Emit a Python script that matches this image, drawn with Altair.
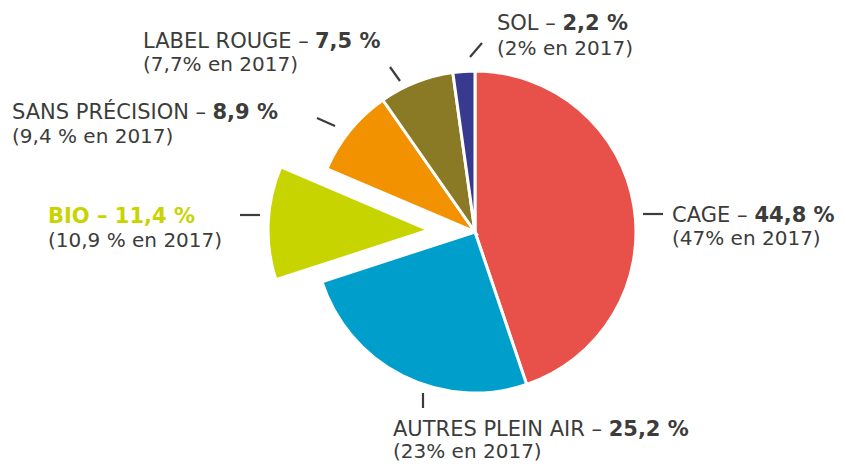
import altair as alt
import pandas as pd

# ---- data ----
categories = ["CAGE", "AUTRES PLEIN AIR", "BIO", "SANS PRÉCISION", "LABEL ROUGE", "SOL"]
values_2019 = [44.8, 25.2, 11.4, 8.9, 7.5, 2.2]
labels_2017 = ["(47% en 2017)", "(23% en 2017)", "(10,9 % en 2017)",
               "(9,4 % en 2017)", "(7,7% en 2017)", "(2% en 2017)"]
colors = ["#E8514A", "#009FCB", "#C8D400", "#F39200", "#8A7925", "#373A8E"]

# ---- layout (pixels, relative to plot origin) ----
W, H = 726, 448
TEXT = "#3C3C3B"
FONT = "DejaVu Sans"
FS1 = 21   # first line
FS2 = 20   # second line
# approximate DejaVu Sans advance widths (em) used to place the bold part after the regular part
ADV = {" ": .318, "A": .684, "B": .686, "C": .698, "E": .632, "G": .775, "I": .295,
       "L": .557, "N": .748, "O": .787, "P": .603, "R": .695, "S": .635, "T": .611,
       "U": .732, "É": .632, "–": .5}

def text_width(s, fs):
    return sum(ADV.get(ch, .6) for ch in s) * fs

# label anchors: x of line start, baseline of line 1, baseline of line 2
LABEL_POS = {
    "CAGE":             (560, 214, 237),
    "AUTRES PLEIN AIR": (281, 428, 450),
    "BIO":              (-64, 215, 239),
    "SANS PRÉCISION":   (-100, 111, 135),
    "LABEL ROUGE":      (31, 40, 63),
    "SOL":              (385, 22, 47),
}
DASH_POS = {
    "CAGE":             (531, 206, 551, 206),
    "AUTRES PLEIN AIR": (311, 385, 311, 400),
    "BIO":              (128, 207, 148, 207),
    "SANS PRÉCISION":   (205, 110, 223, 118),
    "LABEL ROUGE":      (278, 59, 288, 73),
    "SOL":              (358, 49, 370, 35),
}
EXPLODE = (-46, -2)

df = pd.DataFrame({
    "category": categories,
    "value": values_2019,
    "idx": list(range(len(categories))),
})

color_scale = alt.Scale(domain=categories, range=colors)

base = alt.Chart(df).encode(
    theta=alt.Theta("value:Q", stack=True),
    color=alt.Color("category:N", scale=color_scale, legend=None),
    order=alt.Order("idx:Q"),
)

pie_main = base.mark_arc(outerRadius=161, stroke="white", strokeWidth=3).encode(
    opacity=alt.condition(alt.datum.category == "BIO", alt.value(0), alt.value(1))
)
pie_bio = base.mark_arc(outerRadius=161, stroke="white", strokeWidth=3,
                        xOffset=EXPLODE[0], yOffset=EXPLODE[1]).encode(
    opacity=alt.condition(alt.datum.category == "BIO", alt.value(1), alt.value(0))
)

# label table
rows = []
for c, v, l17 in zip(categories, values_2019, labels_2017):
    x0, y1, y2 = LABEL_POS[c]
    bold = f"{v:.1f}".replace(".", ",") + " %"
    if c == "BIO":
        rows.append(dict(category=c, part="boldcolor", text=f"{c} – {bold}", x=x0, y=y1))
    else:
        normal = f"{c} –"
        rows.append(dict(category=c, part="normal", text=normal, x=x0, y=y1))
        rows.append(dict(category=c, part="bold", text=bold,
                         x=x0 + text_width(normal + " ", FS1), y=y1))
    rows.append(dict(category=c, part="line2", text=l17, x=x0, y=y2))
lab = pd.DataFrame(rows)

def text_layer(part, weight, color, fs):
    return alt.Chart(lab).transform_filter(alt.datum.part == part).mark_text(
        align="left", baseline="alphabetic", font=FONT, fontSize=fs,
        fontWeight=weight, color=color,
    ).encode(
        x=alt.X("x:Q", scale=None),
        y=alt.Y("y:Q", scale=None),
        text="text:N",
    )

t_normal = text_layer("normal", 400, TEXT, FS1)
t_bold = text_layer("bold", 700, TEXT, FS1)
t_bio = text_layer("boldcolor", 700, colors[2], FS1)
t_line2 = text_layer("line2", 400, TEXT, FS2)

dash = pd.DataFrame([
    dict(category=c, x=DASH_POS[c][0], y=DASH_POS[c][1], x2=DASH_POS[c][2], y2=DASH_POS[c][3])
    for c in categories
])
dashes = alt.Chart(dash).mark_rule(color=TEXT, strokeWidth=2.2).encode(
    x=alt.X("x:Q", scale=None), y=alt.Y("y:Q", scale=None),
    x2="x2:Q", y2="y2:Q",
)

chart = alt.layer(pie_main, pie_bio, dashes, t_normal, t_bold, t_bio, t_line2).properties(
    width=W, height=H,
    autosize=alt.AutoSizeParams(type="none"),
    padding={"left": 104, "top": 0, "right": 0, "bottom": 6},
).configure_view(stroke=None)

chart.save("out.html", embed_options={"renderer": "svg", "actions": False})
